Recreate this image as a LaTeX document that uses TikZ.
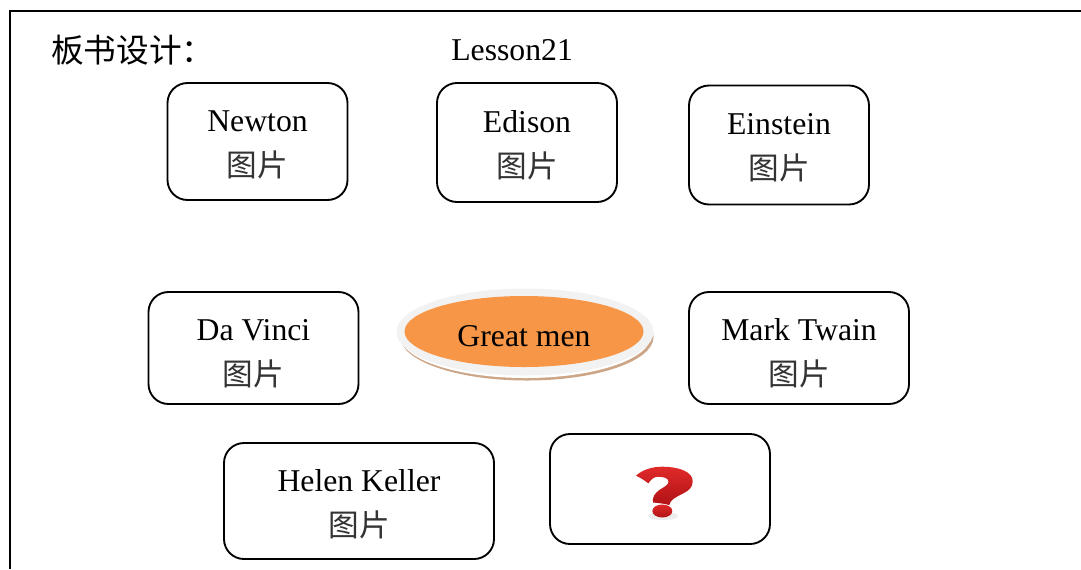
\documentclass[tikz,border=0pt]{standalone}
\usepackage{fontspec}
\setmainfont{Liberation Serif}
\newfontfamily\cjk{Noto Sans CJK SC}
\usetikzlibrary{shapes.geometric,calc}
\tikzset{
  x=0.75pt,y=-0.75pt,
  card/.style={draw=black,line width=1.4pt,rounded corners=15pt,fill=white,inner sep=0pt},
  cardtext/.style={font=\fontsize{23.8pt}{27pt}\selectfont,inner sep=0pt,anchor=base},
  cjktext/.style={font=\cjk\fontsize{23pt}{27pt}\selectfont\color[gray]{0.2},inner sep=0pt,anchor=base},
}
\definecolor{orangefill}{HTML}{F79646}
\definecolor{ringgray}{HTML}{F2F2F2}
\definecolor{rimtan}{HTML}{CDA687}
\definecolor{qred}{HTML}{E02A2A}
\definecolor{qdark}{HTML}{B01216}
\newcommand{\cardbox}[7]{%
  \node[card,minimum width=#3*0.75pt,minimum height=#4*0.75pt] (#1) at (#2) {};
  \node[cardtext] (#1t) at ($(#1.center)+(#5,#6)$) {#7};
  \node[cjktext] (#1c) at ($(#1.center)+(#5,#6+45)$) {图片};
}
\begin{document}
\begin{tikzpicture}
\useasboundingbox (0,0) rectangle (1081,569);
\fill[white] (0,0) rectangle (1081,569);
\draw[line width=1.5pt] (9.5,569) -- (9.5,11) -- (1081,11);
\node[inner sep=0pt,anchor=base west,font=\cjk\fontsize{24.5pt}{28pt}\selectfont] (title) at (51,62) {板书设计：};
\node[cardtext,anchor=base west] (lesson) at (451,60) {Lesson21};
\cardbox{newton}{257.5,141.5}{180}{117}{0}{-10}{Newton}
\cardbox{edison}{527,142.5}{180}{119}{0}{-10}{Edison}
\cardbox{einstein}{779,145}{180}{119}{0}{-11}{Einstein}
\cardbox{davinci}{253.5,348}{210}{112}{0}{-8}{Da Vinci}
\cardbox{twain}{799,348}{220}{112}{0}{-8}{Mark Twain}
\cardbox{keller}{359,501}{270}{116}{0}{-10}{Helen Keller}
\node[card,minimum width=220*0.75pt,minimum height=110*0.75pt] (mystery) at (660,489) {};
% question mark
\fill[black!7] (663,516) ellipse (15 and 4);
\shade[top color=qred,bottom color=qdark] (636,475.7)
  .. controls (642,470) and (652,466.5) .. (663,466.7)
  .. controls (680,467) and (693,472) .. (692.7,481.7)
  .. controls (692.5,488) and (688,491) .. (683,493.5)
  .. controls (676,497) and (670,500) .. (669.3,505)
  .. controls (664,503.5) and (658,503) .. (653,502.5)
  .. controls (652,497) and (655,493) .. (660,489.5)
  .. controls (664,487) and (668.5,485) .. (668.5,481.5)
  .. controls (668.5,478) and (663,476.7) .. (658,476.7)
  .. controls (654,476.7) and (651,479.5) .. (648.3,483.3)
  .. controls (644,480) and (640,477.5) .. (636,475.7) -- cycle;
\shade[top color=qred,bottom color=qdark] (662.3,511) ellipse (10 and 6.5);
% ellipse
\node[ellipse,fill=rimtan,minimum width=253*0.75pt,minimum height=87*0.75pt,inner sep=0pt] (rim) at (527,337) {};
\node[ellipse,fill=white,minimum width=251*0.75pt,minimum height=85*0.75pt,inner sep=0pt] (gap) at (525.5,335.5) {};
\node[ellipse,fill=ringgray,minimum width=257*0.75pt,minimum height=87*0.75pt,inner sep=0pt] (ring) at (525,332) {};
\node[ellipse,fill=orangefill,minimum width=239*0.75pt,minimum height=71*0.75pt,inner sep=0pt] (core) at (524,331.5) {};
\node[inner sep=0pt,anchor=base,font=\fontsize{23.8pt}{26pt}\selectfont] (great) at (524,346) {Great men};
\end{tikzpicture}
\end{document}
